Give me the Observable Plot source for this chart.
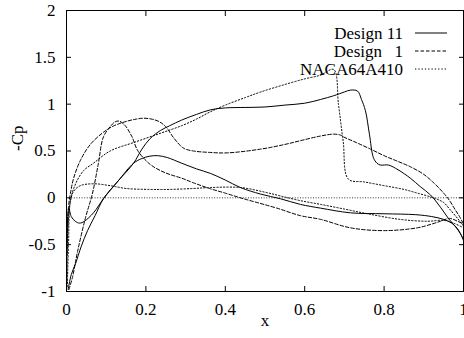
<!DOCTYPE html>
<html>
<head>
<meta charset="utf-8">
<script src="https://cdn.jsdelivr.net/npm/d3@7"></script>
<script src="https://cdn.jsdelivr.net/npm/@observablehq/plot@0.6"></script>
<style>
  html, body { margin: 0; padding: 0; background: white; }
  #wrap { position: relative; width: 464px; height: 338px; }
  #legend { position: absolute; left: 0; top: 0; pointer-events: none; }
</style>
</head>
<body>
<div id="wrap"></div>
<script>
// ---- Data (x/c, -Cp) ----
const xTicks = [0, 0.2, 0.4, 0.6, 0.8, 1];
const yTicks = [-1, -0.5, 0, 0.5, 1, 1.5, 2];

const seriesNames = ["Design 11", "Design  1", "NACA64A410"];

// Design 11 - surface A
const d11aX = [0.004,0.012,0.023,0.037,0.053,0.072,0.093,0.13,0.169,0.19,0.21,0.237,0.26,0.29,0.327,0.363,0.40,0.45,0.50,0.55,0.60,0.64,0.673,0.70,0.715,0.733,0.743,0.753,0.763,0.773,0.782,0.791,0.811,0.835,0.866,0.891,0.917,0.942,0.962,0.98,0.992,1.0];
const d11aY = [-0.98,-0.82,-0.70,-0.52,-0.35,-0.19,-0.01,0.18,0.37,0.52,0.63,0.72,0.77,0.83,0.89,0.94,0.96,0.965,0.97,0.99,1.01,1.05,1.09,1.13,1.15,1.14,1.05,0.93,0.68,0.43,0.37,0.35,0.35,0.30,0.21,0.12,0.03,-0.10,-0.22,-0.31,-0.38,-0.45];
// Design 11 - surface B
const d11bX = [0.001,0.003,0.006,0.012,0.022,0.033,0.045,0.068,0.093,0.13,0.169,0.19,0.21,0.23,0.254,0.29,0.327,0.363,0.40,0.438,0.489,0.539,0.589,0.64,0.715,0.8,0.88,0.92,0.95,0.97,0.985,1.0];
const d11bY = [-0.6,-0.2,-0.11,-0.2,-0.25,-0.27,-0.25,-0.16,-0.01,0.18,0.37,0.42,0.445,0.45,0.43,0.37,0.31,0.26,0.19,0.11,0.04,-0.01,-0.07,-0.11,-0.16,-0.17,-0.18,-0.2,-0.23,-0.27,-0.33,-0.45];

// Design 1 - surface C (sharp leading-edge peak)
const d1cX = [0.006,0.015,0.028,0.048,0.065,0.08,0.093,0.11,0.122,0.132,0.146,0.164,0.18,0.21,0.237,0.26,0.29,0.32,0.36,0.40,0.438,0.48,0.53,0.589,0.64,0.715,0.8,0.884,0.92,0.942,0.965,0.985,1.0];
const d1cY = [-0.98,-0.85,-0.57,-0.21,0.04,0.36,0.65,0.76,0.81,0.82,0.78,0.66,0.50,0.36,0.29,0.25,0.21,0.16,0.10,0.05,0.0,-0.05,-0.11,-0.19,-0.23,-0.32,-0.35,-0.32,-0.28,-0.25,-0.22,-0.25,-0.28];
// Design 1 - surface D (broad hump)
const d1dX = [0.001,0.005,0.01,0.018,0.035,0.06,0.093,0.12,0.154,0.175,0.194,0.215,0.235,0.252,0.27,0.295,0.32,0.36,0.405,0.489,0.55,0.589,0.64,0.673,0.69,0.698,0.73,0.766,0.8,0.834,0.867,0.9,0.925,0.95,0.965,0.978,0.99,1.0];
const d1dY = [-0.6,-0.1,0.05,0.21,0.40,0.57,0.70,0.77,0.82,0.84,0.85,0.84,0.81,0.75,0.64,0.53,0.50,0.485,0.48,0.52,0.57,0.61,0.66,0.68,0.67,0.65,0.59,0.52,0.45,0.39,0.33,0.25,0.16,0.05,-0.03,-0.12,-0.20,-0.28];

// NACA64A410 - surface E (with shock)
const nEX = [0.002,0.005,0.01,0.023,0.043,0.068,0.11,0.169,0.237,0.29,0.327,0.363,0.40,0.45,0.489,0.55,0.60,0.64,0.673,0.685,0.697,0.71,0.75,0.80,0.85,0.884,0.924,0.95,0.965,0.985,1.0];
const nEY = [-0.95,-0.5,-0.03,0.15,0.29,0.37,0.50,0.59,0.69,0.77,0.84,0.92,0.99,1.07,1.13,1.21,1.27,1.31,1.37,1.0,0.6,0.2,0.17,0.13,0.09,0.05,0.0,-0.05,-0.12,-0.22,-0.30];
// NACA64A410 - surface F
const nFX = [0.001,0.004,0.01,0.018,0.035,0.068,0.11,0.15,0.205,0.26,0.32,0.363,0.438,0.50,0.539,0.589,0.64,0.70,0.758,0.84,0.909,0.95,0.975,1.0];
const nFY = [-0.9,-0.3,-0.03,0.07,0.13,0.15,0.13,0.10,0.09,0.09,0.10,0.11,0.11,0.06,0.02,-0.03,-0.07,-0.12,-0.17,-0.23,-0.25,-0.24,-0.27,-0.32];

const zeroLine = [0];

// ---- Build ----
const FONT = "'Liberation Serif'";
const toRows = (xs, ys) => xs.map((x, i) => ({x, y: ys[i]}));
const styles = {
  solid: {strokeDasharray: null},
  dashed: {strokeDasharray: "3.5,2"},
  dotted: {strokeDasharray: "1.3,2"}
};
const lineOpts = (s) => ({x: "x", y: "y", curve: "catmull-rom", stroke: "black", strokeWidth: 1, ...(s.strokeDasharray ? {strokeDasharray: s.strokeDasharray} : {})});

const fmt = d => `${d}`;

const chart = Plot.plot({
  width: 464,
  height: 338,
  marginLeft: 66,
  marginRight: 1,
  marginTop: 10,
  marginBottom: 47,
  style: {background: "white", color: "black", overflow: "visible"},
  x: {domain: [0, 1]},
  y: {domain: [-1, 2]},
  marks: [
    Plot.ruleY(zeroLine, {stroke: "black", strokeWidth: 0.8, strokeDasharray: "1,1.6"}),
    Plot.line(toRows(nFX, nFY), lineOpts(styles.dotted)),
    Plot.line(toRows(nEX, nEY), lineOpts(styles.dotted)),
    Plot.line(toRows(d1cX, d1cY), lineOpts(styles.dashed)),
    Plot.line(toRows(d1dX, d1dY), lineOpts(styles.dashed)),
    Plot.line(toRows(d11bX, d11bY), lineOpts(styles.solid)),
    Plot.line(toRows(d11aX, d11aY), lineOpts(styles.solid)),
    Plot.frame({stroke: "black", strokeWidth: 1}),
    Plot.axisX(xTicks, {anchor: "bottom", tickSize: 0, tickPadding: 11, tickFormat: fmt, label: null}),
    Plot.axisX(xTicks, {anchor: "bottom", tickSize: -5, text: null, label: null}),
    Plot.axisX(xTicks, {anchor: "top", tickSize: -5, text: null, label: null}),
    Plot.axisY(yTicks, {anchor: "left", tickSize: 0, tickPadding: 11, tickFormat: fmt, label: null}),
    Plot.axisY(yTicks, {anchor: "left", tickSize: -5, text: null, label: null}),
    Plot.axisY(yTicks, {anchor: "right", tickSize: -5, text: null, label: null}),
    Plot.text(["-Cp"], {frameAnchor: "left", dx: -49, rotate: -90, fill: "black"}),
    Plot.text(["x"], {frameAnchor: "bottom", dy: 34.5, fill: "black"})
  ]
});

const wrap = document.getElementById("wrap");
wrap.appendChild(chart);

// ---- Legend (top right, inside the frame) ----
const legendDash = [null, "3.5,2", "1.3,2"];
const legend = d3.select(wrap).append("svg")
  .attr("id", "legend")
  .attr("width", 464).attr("height", 338);
seriesNames.forEach((name, i) => {
  const cy = 33 + i * 18;
  legend.append("text")
    .attr("x", 403).attr("y", cy + 5.5)
    .attr("text-anchor", "end")
    .attr("fill", "black")
    .attr("xml:space", "preserve")
    .style("white-space", "pre")
    .style("word-spacing", i === 1 ? "2px" : null)
    .text(name);
  const ln = legend.append("line")
    .attr("x1", 415).attr("x2", 447)
    .attr("y1", cy).attr("y2", cy)
    .attr("stroke", "black").attr("stroke-width", 1);
  if (legendDash[i]) ln.attr("stroke-dasharray", legendDash[i]);
});

// Force the serif face on every svg and text node (inline, important)
wrap.querySelectorAll("svg, g, text").forEach(t => {
  t.setAttribute("font-family", "Liberation Serif");
  t.setAttribute("font-size", "17");
  t.style.setProperty("font-family", FONT, "important");
  t.style.setProperty("font-size", "17px", "important");
});
</script>
</body>
</html>
